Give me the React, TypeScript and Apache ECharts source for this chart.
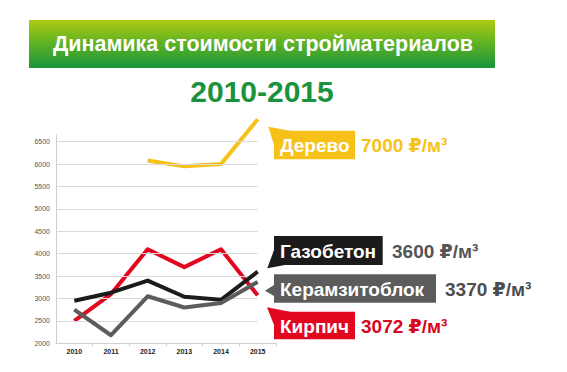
import React, { useEffect, useRef } from "react";
import * as echarts from "echarts";

const years = [2010, 2011, 2012, 2013, 2014, 2015];
const yTicks = [2000, 2500, 3000, 3500, 4000, 4500, 5000, 5500, 6000, 6500];
const woodValues: (number | null)[] = [null, null, 6080, 5950, 6000, 7000];
const brickValues = [2500, 3100, 4100, 3700, 4100, 3072];
const gasValues = [2950, 3130, 3400, 3040, 2970, 3600];
const clayValues = [2750, 2180, 3050, 2800, 2900, 3370];

const seriesNames = ["Дерево", "Кирпич", "Газобетон", "Керамзитоблок"];
const titleText = "Динамика стоимости стройматериалов";
const subtitleText = "2010-2015";
const unit = " ₽/м³";

const FONT = "'Liberation Sans', Arial, 'DejaVu Sans', sans-serif";
const C_YELLOW = "#F6C21A";
const C_RED = "#E2071F";
const C_BLACK = "#1B1B1B";
const C_GREY = "#5C5C5C";

const last = (a: (number | null)[]) => a[a.length - 1] as number;
const pairs = (a: (number | null)[]) => years.map((y, i) => [y, a[i]]);

function callout(
  x: number, y: number, w: number, h: number, fill: string,
  pointer: number[][], label: string, valueText: string, valueX: number, valueColor: string
) {
  return [
    { type: "polygon", shape: { points: pointer }, style: { fill }, silent: true },
    { type: "rect", shape: { x, y, width: w, height: h }, style: { fill }, silent: true },
    {
      type: "text", x: x + 6, y: y + h / 2 + 0.5,
      style: { text: label, fill: "#fff", font: `bold 19px ${FONT}`, verticalAlign: "middle", align: "left" },
      silent: true,
    },
    {
      type: "text", x: valueX, y: y + h / 2 + 0.5,
      style: { text: valueText, fill: valueColor, font: `bold 19px ${FONT}`, verticalAlign: "middle", align: "left" },
      silent: true,
    },
  ];
}

export default function App() {
  const ref = useRef<HTMLDivElement>(null);
  useEffect(() => {
    if (!ref.current) return;
    const chart = echarts.init(ref.current, null, { renderer: "svg" });
    const gridLines = yTicks.slice(1).map((v) => [
      { coord: [2009.5, v] },
      { coord: [2015, v] },
    ]);
    const lineSeries = (name: string, data: (number | null)[], color: string, z: number) => ({
      type: "line",
      name,
      data: pairs(data),
      symbol: "none",
      clip: false,
      z,
      lineStyle: { color, width: 4, join: "round" },
      itemStyle: { color },
    });
    chart.setOption({
      animation: false,
      backgroundColor: "#fff",
      grid: { left: 56, right: 291, top: 135, bottom: 28.7 },
      xAxis: {
        type: "value",
        min: 2009.5,
        max: 2015.5,
        axisLine: { show: true, lineStyle: { color: "#cfcfcf", width: 1 } },
        axisTick: {
          show: true,
          length: 3,
          lineStyle: { color: "#cfcfcf" },
          customValues: [2010.5, 2011.5, 2012.5, 2013.5, 2014.5, 2015.5],
        },
        axisLabel: {
          customValues: years,
          formatter: (v: number) => String(Math.round(v)),
          fontSize: 7,
          fontWeight: "bold",
          color: "#222",
          margin: 5,
          fontFamily: FONT,
        },
        splitLine: { show: false },
      },
      yAxis: {
        type: "value",
        min: 2000,
        max: 6650,
        axisLine: { show: true, lineStyle: { color: "#cfcfcf", width: 1 } },
        axisTick: { show: false },
        axisLabel: {
          customValues: yTicks,
          formatter: (v: number) => String(Math.round(v)),
          fontSize: 7,
          color: "#555",
          margin: 6,
          fontFamily: FONT,
        },
        splitLine: { show: false },
      },
      series: [
        {
          type: "line",
          data: [],
          silent: true,
          markLine: {
            silent: true,
            symbol: "none",
            label: { show: false },
            lineStyle: { color: "#d9d9d9", width: 1, type: "solid" },
            data: gridLines,
          },
        },
        lineSeries(seriesNames[0], woodValues, C_YELLOW, 3),
        lineSeries(seriesNames[1], brickValues, C_RED, 4),
        lineSeries(seriesNames[2], gasValues, C_BLACK, 5),
        lineSeries(seriesNames[3], clayValues, C_GREY, 6),
      ],
      graphic: [
        {
          type: "rect",
          shape: { x: 29, y: 20, width: 466, height: 48 },
          style: {
            fill: new echarts.graphic.LinearGradient(0, 0, 0, 1, [
              { offset: 0, color: "#AECB12" },
              { offset: 0.45, color: "#64B322" },
              { offset: 1, color: "#17963B" },
            ]),
          },
          silent: true,
        },
        {
          type: "text",
          x: 263,
          y: 44,
          style: {
            text: titleText,
            fill: "#fff",
            font: `bold 21.5px ${FONT}`,
            align: "center",
            verticalAlign: "middle",
          },
          silent: true,
        },
        {
          type: "text",
          x: 262,
          y: 91,
          style: {
            text: subtitleText,
            fill: "#1A9240",
            font: `bold 30px ${FONT}`,
            align: "center",
            verticalAlign: "middle",
          },
          silent: true,
        },
        ...callout(274, 130.7, 81, 28.6, C_YELLOW,
          [[268.3, 126.7], [290, 130.7], [274, 145]],
          seriesNames[0], `${last(woodValues)}${unit}`, 361, C_YELLOW),
        ...callout(274, 236, 108.7, 29, C_BLACK,
          [[274, 250], [267.3, 268.3], [285, 265]],
          seriesNames[2], `${last(gasValues)}${unit}`, 392, "#555555"),
        ...callout(274, 274.3, 162, 28.4, C_GREY,
          [[274, 285], [265, 290.7], [274, 296]],
          seriesNames[3], `${last(clayValues)}${unit}`, 445, "#4D4D4D"),
        ...callout(274, 311.7, 81, 27.6, C_RED,
          [[267, 307.3], [290, 311.7], [274, 325]],
          seriesNames[1], `${last(brickValues)}${unit}`, 361, "#D8061D"),
      ],
    });
    return () => chart.dispose();
  }, []);
  return (
    <div
      ref={ref}
      style={{ position: "absolute", left: 0, top: 0, width: 567, height: 372, background: "#fff" }}
    />
  );
}
